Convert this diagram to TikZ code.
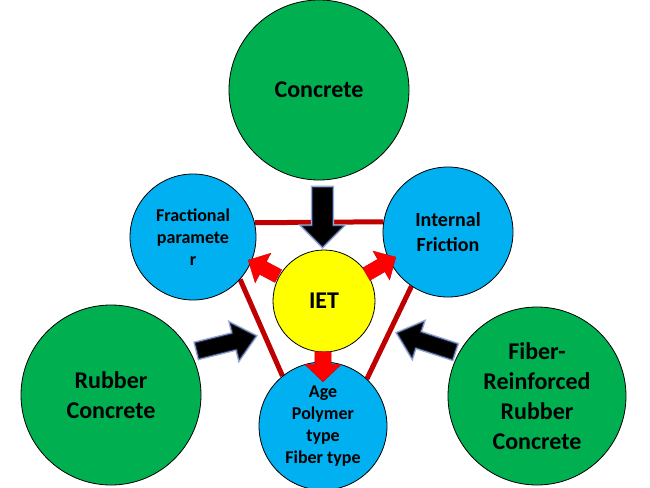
\documentclass[tikz,border=0pt]{standalone}
\usepackage{fontspec}
\setmainfont{Carlito}
\usetikzlibrary{shapes.arrows,backgrounds}
\definecolor{cgreen}{HTML}{00B050}
\definecolor{cblue}{HTML}{00B0F0}
\definecolor{cyellow}{HTML}{FFFF00}
\definecolor{cdred}{HTML}{C00000}
\definecolor{cred}{HTML}{FF0000}
\definecolor{glow}{RGB}{150,170,210}
\definecolor{navyedge}{RGB}{40,50,90}
\begin{document}
\begin{tikzpicture}[x=1pt,y=-1pt,
  bubble/.style={circle, draw=black, line width=0.8pt, inner sep=0pt, align=center},
  bigtext/.style={font=\bfseries\fontsize{24}{30}\selectfont},
  midtext/.style={font=\bfseries\fontsize{20}{25}\selectfont},
  smalltext/.style={font=\bfseries\fontsize{18}{22}\selectfont},
  tiesline/.style={draw=cdred, line width=5pt},
  arrdims/.style n args={4}{single arrow, inner xsep=0pt, inner ysep=#1,
     single arrow head extend=#2, minimum height=#3, single arrow tip angle=#4,
     minimum width=0pt, anchor=tip},
  blackarr/.style={fill=black, draw=navyedge, line width=0.8pt,
     preaction={draw=glow, line width=3.5pt}},
  redarr/.style={fill=cred, draw=red!80!black, line width=0.4pt}
]
\useasboundingbox (0,0) rectangle (650,487);

% circles
\node[bubble, fill=cgreen, minimum size=180pt, bigtext] (conc) at (319,90) {Concrete};
\node[bubble, fill=cblue, minimum size=126pt, smalltext] (frac) at (193,237) {Fractional\\paramete\\r};
\node[bubble, fill=cblue, minimum size=130pt, midtext] (fric) at (448,232) {Internal\\Friction};
\node[bubble, fill=cyellow, minimum size=102pt, bigtext] (iet) at (324,301) {IET};
\node[bubble, fill=cblue, minimum size=128pt, smalltext] (age) at (323,426) {Age\\Polymer\\type\\Fiber type};
\node[bubble, fill=cgreen, minimum size=180pt, bigtext] (rub) at (111,395) {Rubber\\Concrete};
\node[bubble, fill=cgreen, minimum size=178pt, bigtext] (fib) at (537,396) {Fiber-\\Reinforced\\Rubber\\Concrete};

% red triangle behind the blue circles
\begin{scope}[on background layer]
\fill[white] (0,0) rectangle (650,487);
\draw[tiesline] (frac.13.8) -- (fric.171.2);
\draw[tiesline] (frac.-42.5) -- (age.129.2);
\draw[tiesline] (fric.-124.2) -- (age.47.5);
\end{scope}

% black block arrows
\node[arrdims={9.5pt}{10.5pt}{59pt}{90}, rotate=-90, blackarr] (ab1) at (322.5,247) {};
\node[arrdims={7.5pt}{10.5pt}{60pt}{82}, rotate=14, blackarr] (ab2) at (256,336) {};
\node[arrdims={7.5pt}{10.5pt}{60pt}{82}, rotate=162, blackarr] (ab3) at (397,333) {};

% red block arrows
\node[arrdims={7pt}{9.5pt}{34pt}{90}, rotate=152, redarr] (ar1) at (248,260) {};
\node[arrdims={7pt}{9.5pt}{34pt}{90}, rotate=30, redarr] (ar2) at (396,257) {};
\node[arrdims={8pt}{10pt}{30pt}{93}, rotate=-90, redarr] (ar3) at (323,382) {};
\end{tikzpicture}
\end{document}
